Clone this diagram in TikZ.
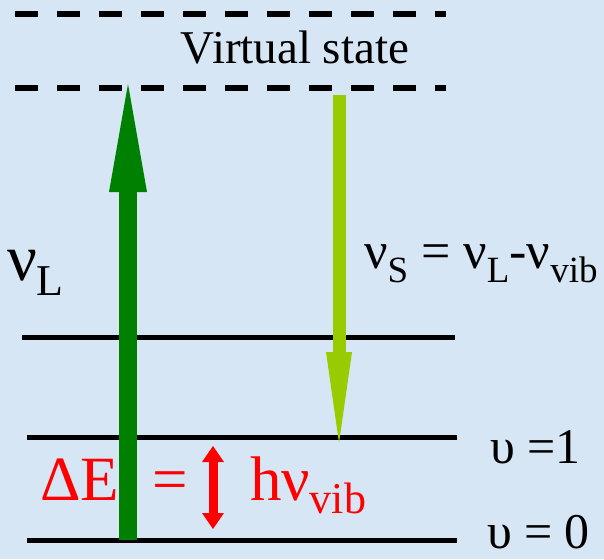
\documentclass[tikz,border=0pt]{standalone}
\usepackage{fontspec}
\setmainfont{Liberation Serif}
\definecolor{bgblue}{RGB}{215,230,245}
\definecolor{dkgreen}{RGB}{0,128,0}
\definecolor{ltgreen}{RGB}{153,204,0}
\newcommand\myfs[1]{\fontsize{#1}{#1}\selectfont}
\begin{document}
\begin{tikzpicture}[x=1pt,y=-1pt,
  lbl/.style={inner sep=0pt,outer sep=0pt},
  level/.style={line width=5pt,black},
  virt/.style={line width=6pt,black,dash pattern=on 23pt off 19pt}]
\fill[bgblue] (0,0) rectangle (604,559);
\useasboundingbox (0,0) rectangle (604,559);
% virtual state (dashed)
\coordinate (d1l) at (15,14);  \coordinate (d1r) at (446,14);
\coordinate (d2l) at (15,88);  \coordinate (d2r) at (446,88);
\draw[virt] (d1l) -- (d1r);
\draw[virt] (d2l) -- (d2r);
% levels
\coordinate (l2l) at (22,337); \coordinate (l2r) at (455,337);
\coordinate (l1l) at (27,437); \coordinate (l1r) at (457,437);
\coordinate (l0l) at (27,540); \coordinate (l0r) at (457,540);
\draw[level] (l2l) -- (l2r);
\draw[level] (l1l) -- (l1r);
\draw[level] (l0l) -- (l0r);
% laser arrow (up)
\fill[dkgreen] (119,540) rectangle (137,188);
\fill[dkgreen] (109,192) -- (128,84) -- (147,192) -- cycle;
% Stokes arrow (down)
\fill[ltgreen] (333,95) rectangle (346,354);
\fill[ltgreen] (326,352) -- (352,352) -- (339,443) -- cycle;
% red double arrow
\fill[red] (208.5,460) rectangle (217.5,515);
\fill[red] (202,462) -- (213,446) -- (224,462) -- cycle;
\fill[red] (202,513) -- (213,529) -- (224,513) -- cycle;
% texts
\node[lbl,anchor=base] (vs) at (295,64) {\myfs{47}Virtual state};
\node[lbl,anchor=base west] (nuL) at (7,280) {\myfs{66}ν\raisebox{-15pt}{\myfs{44}L}};
\node[lbl,anchor=base west] (nuS) at (364,268) {\myfs{52}ν\raisebox{-14pt}{\myfs{37}S} = ν\raisebox{-14pt}{\myfs{37}L}-ν\raisebox{-14pt}{\myfs{37}vib}};
\node[lbl,anchor=base west,text=red] (dE) at (40,500) {\myfs{63}ΔE};
\node[lbl,anchor=base west,text=red] (eq) at (152,500) {\myfs{63}=};
\node[lbl,anchor=base west,text=red] (hnu) at (250,500) {\myfs{63}hν\raisebox{-13pt}{\myfs{44}vib}};
\node[lbl,anchor=base west] (v1) at (490,463) {\myfs{50}υ =1};
\node[lbl,anchor=base west] (v0) at (487,548) {\myfs{50}υ = 0};
\end{tikzpicture}
\end{document}
